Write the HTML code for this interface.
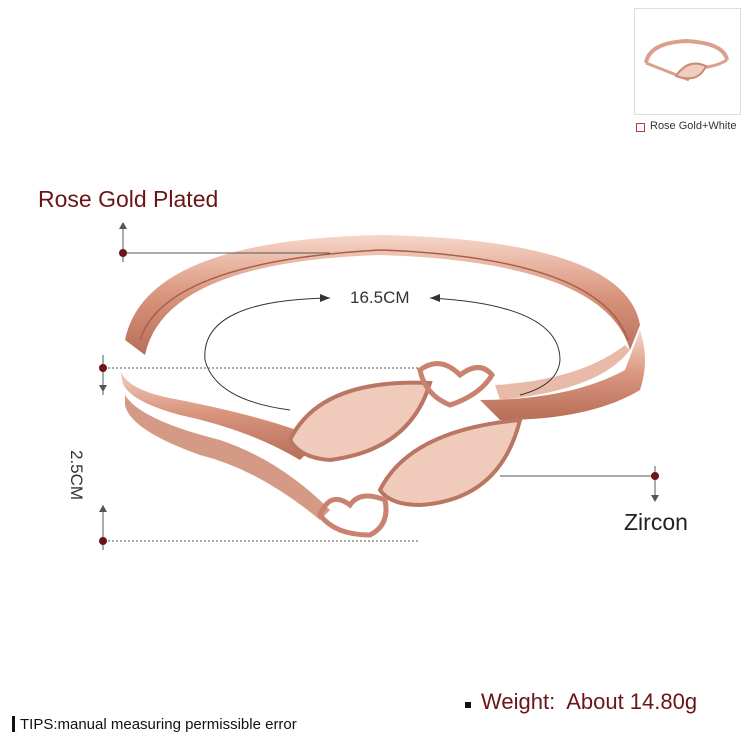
<!DOCTYPE html>
<html><head><style>
body{margin:0;width:750px;height:750px;background:#fff;position:relative;overflow:hidden;font-family:"Liberation Sans",sans-serif}
.t{position:absolute;color:#6b1518;white-space:nowrap}
</style></head><body>
<div style="position:absolute;left:634px;top:8px;width:105px;height:105px;border:1px solid #ddd"></div>
<svg style="position:absolute;left:634px;top:8px" width="105" height="105">
<path d="M12 55 Q15 35 52 33 Q90 35 93 52" fill="none" stroke="#d9a08c" stroke-width="4"/>
<path d="M12 55 Q30 62 55 72 M60 60 Q80 60 93 52" fill="none" stroke="#d9a08c" stroke-width="3"/>
<path d="M42 68 q12 -18 30 -10 q-8 18 -30 10z" fill="#efcdbf" stroke="#c98b76" stroke-width="2"/>
</svg>
<div style="position:absolute;left:636px;top:123px;width:7px;height:7px;border:1px solid #c33"></div>
<div class="t" style="left:650px;top:120px;font-size:11px;color:#333">Rose Gold+White</div>

<div class="t" style="left:38px;top:186px;font-size:23px">Rose Gold Plated</div>
<div class="t" style="left:624px;top:509px;font-size:23px;color:#222">Zircon</div>
<div class="t" style="left:481px;top:689px;font-size:22px;color:#6b1518">Weight:&nbsp; About 14.80g</div>
<div style="position:absolute;left:465px;top:702px;width:6px;height:6px;background:#111"></div>
<div style="position:absolute;left:12px;top:716px;width:3px;height:16px;background:#111"></div>
<div class="t" style="left:20px;top:716px;font-size:15px;color:#111">TIPS:manual measuring permissible error</div>
<div class="t" style="left:350px;top:288px;font-size:17px;color:#333">16.5CM</div>
<div class="t" style="left:86px;top:450px;font-size:17px;color:#333;transform:rotate(90deg);transform-origin:0 0">2.5CM</div>

<svg style="position:absolute;left:0;top:0" width="750" height="750">
<defs><linearGradient id="g" x1="0" y1="0" x2="0" y2="1"><stop offset="0" stop-color="#f6d6c8"/><stop offset="0.5" stop-color="#d9957d"/><stop offset="1" stop-color="#b86e58"/></linearGradient></defs>
<path d="M125 340 Q145 240 380 235 Q625 240 640 325 L630 350 Q605 262 380 255 Q165 262 145 355 Z" fill="url(#g)"/>
<path d="M140 340 Q165 262 380 250 Q600 258 628 340" fill="none" stroke="#a85f4a" stroke-width="1.5"/>
<path d="M120 365 Q120 390 180 400 Q280 420 320 440 L300 460 Q250 430 180 415 Q125 400 122 380 Z" fill="url(#g)"/>
<path d="M125 395 Q140 420 220 440 Q280 460 330 510 L320 520 Q260 470 200 455 Q130 430 125 405Z" fill="#d49a86"/>
<path d="M640 330 Q650 360 640 390 Q590 420 500 420 L480 400 Q570 400 625 370 Z" fill="url(#g)"/>
<path d="M630 350 Q600 390 500 400 L495 385 Q580 380 625 345Z" fill="#e8bba9"/>
<path d="M290 440 Q320 378 430 383 Q410 450 330 460 Q300 458 290 440Z" fill="#f0cbbb" stroke="#b97763" stroke-width="4"/>
<path d="M380 490 Q410 430 520 420 Q500 500 420 505 Q390 505 380 490Z" fill="#f0cbbb" stroke="#b97763" stroke-width="4"/>
<path d="M420 370 Q440 355 460 375 Q480 360 492 375 Q480 395 450 405 Q425 395 420 370Z" fill="none" stroke="#c9826d" stroke-width="5"/>
<path d="M320 515 Q330 490 350 505 Q360 490 385 500 Q390 525 370 535 Q335 535 320 515Z" fill="none" stroke="#c9826d" stroke-width="5"/>
<path d="M330 298 Q200 300 205 360 Q215 400 290 410" fill="none" stroke="#333" stroke-width="1"/>
<path d="M430 298 Q560 305 560 360 Q558 385 520 395" fill="none" stroke="#333" stroke-width="1"/>
<path d="M330 298 l-10 -4 v8 z M430 298 l10 -4 v8z" fill="#333"/>
<g stroke="#555" stroke-width="1" fill="none">
<line x1="123" y1="253" x2="330" y2="253"/><line x1="123" y1="225" x2="123" y2="262"/>
<line x1="100" y1="368" x2="420" y2="368" stroke-dasharray="2,2"/>
<line x1="100" y1="541" x2="420" y2="541" stroke-dasharray="2,2"/>
<line x1="103" y1="355" x2="103" y2="395"/><line x1="103" y1="505" x2="103" y2="550"/>
<line x1="500" y1="476" x2="655" y2="476"/><line x1="655" y1="466" x2="655" y2="500"/>
</g>
<g fill="#555"><path d="M123 222 l-4 7 h8z M103 392 l-4 -7 h8z M103 505 l-4 7 h8z M655 502 l-4 -7 h8z"/></g>
<g fill="#6b1518"><circle cx="123" cy="253" r="4"/><circle cx="103" cy="368" r="4"/><circle cx="103" cy="541" r="4"/><circle cx="655" cy="476" r="4"/></g>
</svg>
</body></html>
